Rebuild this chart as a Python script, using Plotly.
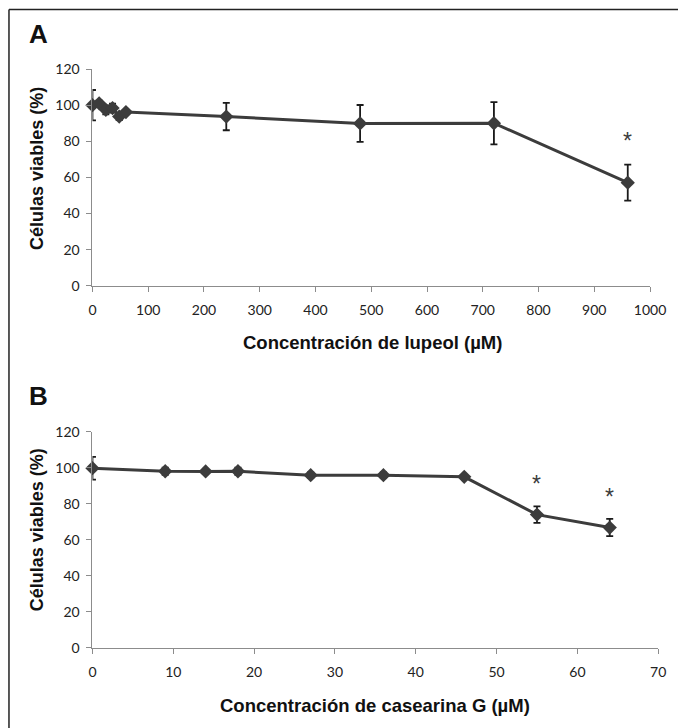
import plotly.graph_objects as go

# Panel A: lupeol
lupeol_conc = [0, 12, 24, 36, 48, 60, 240, 480, 720, 960]
lupeol_viab = [100, 101, 97.4, 98.4, 93.7, 96.2, 93.7, 89.9, 90, 57.1]
lupeol_err = [8.4, 1.5, 2.5, 2.5, 2, 1, 7.6, 10.2, 11.7, 10]
lupeol_sig_x = [960]
lupeol_sig_y = [80]

# Panel B: casearina G
cas_conc = [0, 9, 14, 18, 27, 36, 46, 55, 64]
cas_viab = [99.8, 98.1, 98, 98.1, 95.9, 95.9, 95, 74, 66.8]
cas_err = [6.3, 2, 1, 2, 1.5, 1.5, 1, 4.6, 4.8]
cas_sig_x = [55, 64]
cas_sig_y = [91, 84]

y_ticks = [0, 20, 40, 60, 80, 100, 120]
xA_ticks = [0, 100, 200, 300, 400, 500, 600, 700, 800, 900, 1000]
xB_ticks = [0, 10, 20, 30, 40, 50, 60, 70]

W, H = 696, 742
DARK = "#3c3c3c"

# layout positions are given in the target picture's pixels and mapped
# onto the page (the page is photographed slightly scaled and shifted)
S, OX, OY = 0.976, 2.3, 9.3

def px(x):
    return ((x - OX) / S) / W

def py(y):
    return 1 - ((y - OY) / S) / H

fig = go.Figure()

def add_series(x, y, err, xa, ya):
    fig.add_trace(go.Scatter(
        x=x, y=y, mode="lines+markers", xaxis=xa, yaxis=ya, cliponaxis=False,
        line=dict(color=DARK, width=3),
        marker=dict(symbol="diamond", size=11, color=DARK),
        error_y=dict(type="data", array=err, visible=True, color="#1a1a1a",
                     thickness=1.8, width=3.5),
        showlegend=False, hoverinfo="skip"))

add_series(lupeol_conc, lupeol_viab, lupeol_err, "x", "y")
add_series(cas_conc, cas_viab, cas_err, "x2", "y2")

tickfont = dict(family="Lato, sans-serif", size=14, color="#222")
axis_common = dict(showgrid=False, zeroline=False, showline=True,
                   linecolor="#8c8c8c", linewidth=1, ticks="outside",
                   ticklen=5, tickcolor="#8c8c8c", tickfont=tickfont)

fig.update_layout(
    width=W, height=H, margin=dict(l=0, r=0, t=0, b=0),
    paper_bgcolor="white", plot_bgcolor="white",
    xaxis=dict(domain=[px(91.2), px(651.5)], range=[0, 1000], tickvals=xA_ticks,
               anchor="y", ticklabelstandoff=6, **axis_common),
    yaxis=dict(domain=[py(285.7), py(69.3)], range=[0, 120], tickvals=y_ticks,
               anchor="x", ticklabelstandoff=4, **axis_common),
    xaxis2=dict(domain=[px(91.2), px(659.7)], range=[0, 70], tickvals=xB_ticks,
                anchor="y2", ticklabelstandoff=6, **axis_common),
    yaxis2=dict(domain=[py(647.3), py(431.7)], range=[0, 120], tickvals=y_ticks,
                anchor="x2", ticklabelstandoff=4, **axis_common),
)

ann = []
star_font = dict(family="Liberation Sans, Arial, sans-serif", size=23, color=DARK)
for sx, sy in zip(lupeol_sig_x, lupeol_sig_y):
    ann.append(dict(x=sx, y=sy, xref="x", yref="y", text="*", showarrow=False, font=star_font,
                    xanchor="center", yanchor="middle"))
for sx, sy in zip(cas_sig_x, cas_sig_y):
    ann.append(dict(x=sx, y=sy, xref="x2", yref="y2", text="*", showarrow=False, font=star_font,
                    xanchor="center", yanchor="middle"))

title_font = dict(family="Liberation Sans, Arial, sans-serif", size=18.5, color="#111")
ytitle_font = dict(family="Liberation Sans, Arial, sans-serif", size=18, color="#111")
letter_font = dict(family="Liberation Sans, Arial, sans-serif", size=26, color="#111")

def label(x, y, text, font, angle=0):
    return dict(x=px(x), y=py(y), xref="paper", yref="paper", text=text, showarrow=False,
                font=font, textangle=angle, xanchor="center", yanchor="middle")

ann += [
    label(37, 34, "<b>A</b>", letter_font),
    label(37, 396, "<b>B</b>", letter_font),
    label(373, 342, "<b>Concentración de lupeol (µM)</b>", title_font),
    label(375, 705, "<b>Concentración de casearina G (µM)</b>", title_font),
    label(35.5, 169, "<b>Células viables (%)</b>", ytitle_font, -90),
    label(35.5, 530, "<b>Células viables (%)</b>", ytitle_font, -90),
]
fig.update_layout(annotations=ann)

# frame (left and top border)
fig.update_layout(shapes=[
    dict(type="line", xref="paper", yref="paper", x0=px(7.3), x1=px(7.3), y0=0, y1=py(9.8),
         line=dict(color="#222", width=1.5)),
    dict(type="line", xref="paper", yref="paper", x0=px(7.3), x1=1, y0=py(9.8), y1=py(9.8),
         line=dict(color="#222", width=1.5)),
])

fig.write_html("out.html")
